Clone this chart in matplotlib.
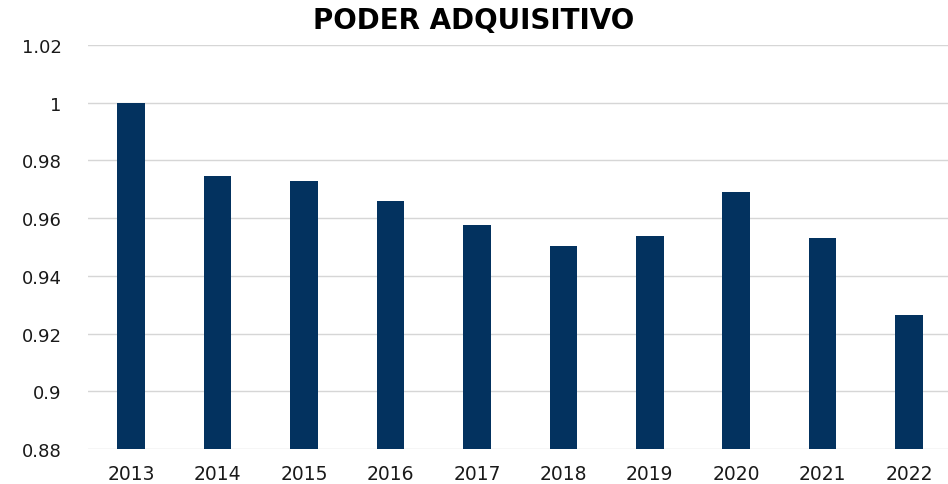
import matplotlib

matplotlib.use("Agg")
import matplotlib.pyplot as plt
from matplotlib.ticker import FixedLocator, FuncFormatter

years = ["2013", "2014", "2015", "2016", "2017", "2018", "2019", "2020", "2021", "2022"]
poder = [1.0, 0.9747, 0.9727, 0.9660, 0.9575, 0.9503, 0.9537, 0.9689, 0.9531, 0.9266]
y_ticks = [0.88, 0.90, 0.92, 0.94, 0.96, 0.98, 1.00, 1.02]

BAR_COLOR = "#03325f"
TEXT_COLOR = "#1a1a1a"

fig = plt.figure(figsize=(9.48, 4.85), dpi=100)
ax = fig.add_axes([0.0928, 0.0722, 0.9072, 0.8330])

x = range(len(years))
ax.bar(x, poder, width=0.32, color=BAR_COLOR, zorder=2)

ax.set_xlim(-0.5, len(years) - 0.55)
ax.set_ylim(y_ticks[0], y_ticks[-1])
ax.yaxis.set_major_locator(FixedLocator(y_ticks))
ax.yaxis.set_major_formatter(FuncFormatter(lambda v, _p: f"{round(v, 4):g}"))
ax.set_xticks(list(x))
ax.set_xticklabels(years)

ax.grid(axis="y", color="#d6d6d6", linewidth=1.0, zorder=0)
for s in ax.spines.values():
    s.set_visible(False)
ax.tick_params(axis="y", length=0, pad=19, labelsize=13, labelcolor=TEXT_COLOR)
ax.tick_params(axis="x", length=0, pad=11, labelsize=13.5, labelcolor=TEXT_COLOR)

fig.text(0.5, 0.941, "PODER ADQUISITIVO", ha="center", va="baseline",
         fontsize=20, fontweight="bold", color="#000000")

fig.savefig("out.png", dpi=100)
